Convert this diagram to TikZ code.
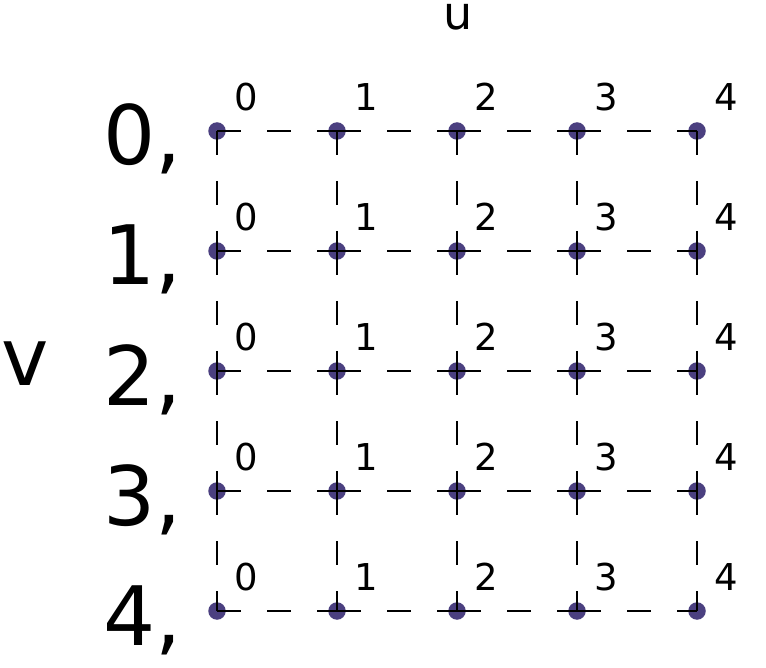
\documentclass[tikz,border=0pt]{standalone}
\usepackage{fontspec}
\setmainfont{DejaVu Sans}
\usetikzlibrary{positioning}
\definecolor{dotcol}{HTML}{4B4080}

\begin{document}
\begin{tikzpicture}[x=1pt, y=-1pt,
      pt/.style={circle, fill=dotcol, inner sep=0pt, minimum size=17.5pt},
      idx/.style={inner sep=0pt, font=\fontsize{37}{40}\selectfont},
      rowlab/.style={inner sep=0pt, anchor=base west, font=\fontsize{82}{90}\selectfont},
      axis/.style={inner sep=0pt, anchor=base},
      link/.style={line width=1.1pt, dash pattern=on 24pt off 26pt}
    ]
      \useasboundingbox (0,0) rectangle (766,668);
      \node[axis, font=\fontsize{46}{50}\selectfont] (u) at (458,30) {u};
      \node[axis, font=\fontsize{80}{90}\selectfont] (v) at (25,385) {v};
      \foreach \rw in {0,...,4} {
        \node[rowlab] (r\rw) at (103,{165+120*\rw}) {\rw,};
        \foreach \cl in {0,...,4} {
          \node[pt] (p\rw\cl) at ({217+120*\cl},{131+120*\rw}) {};
          \node[idx] (l\rw\cl) at ({246+120*\cl},{97+120*\rw}) {\cl};
        }
      }
      % dashed grid
      \foreach \rw in {0,...,4} {
        \foreach \cl [count=\nx from 1] in {0,...,3} {
          \draw[link] (p\rw\cl.center) -- (p\rw\nx.center);
          \draw[link] (p\cl\rw.center) -- (p\nx\rw.center);
        }
      }
    \end{tikzpicture}
\end{document}
